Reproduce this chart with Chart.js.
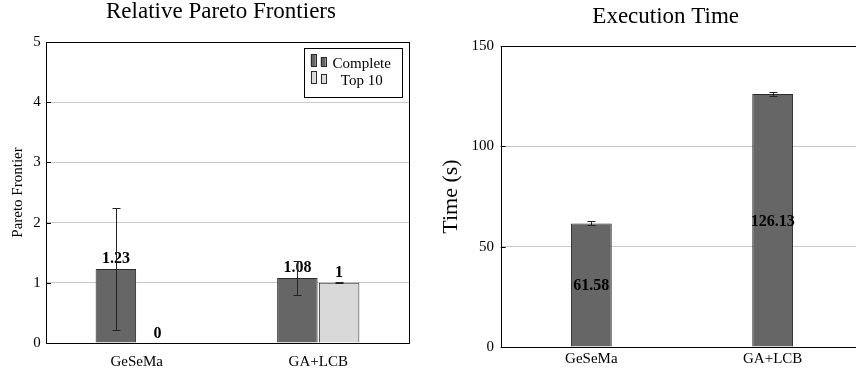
<!DOCTYPE html>
<html>
<head>
<meta charset="utf-8">
<script src="https://cdn.jsdelivr.net/npm/chart.js@4/dist/chart.umd.min.js"></script>
<style>
  html, body { margin: 0; padding: 0; background: #fff; overflow: hidden; }
  body { width: 856px; height: 373px; position: relative; }
  #paretoChart { position: absolute; left: 0; top: 0; }
  #timeChart { position: absolute; left: 420px; top: 0; }
</style>
</head>
<body>
<canvas id="paretoChart" width="420" height="373"></canvas>
<canvas id="timeChart" width="450" height="373"></canvas>
<script>
// Data
const categories = ['GeSeMa', 'GA+LCB'];
const completeValues = [1.23, 1.08];
const completeErrors = [1.01, 0.28];
const top10Values = [0, 1];
const top10Errors = [0, 0.005];
const paretoTicks = [0, 1, 2, 3, 4, 5];

const timeValues = [61.58, 126.13];
const timeErrors = [1.0, 1.1];
const timeTicks = [0, 50, 100, 150];

const SERIF = "'Liberation Serif', 'Times New Roman', serif";
Chart.defaults.font.family = SERIF;
Chart.defaults.color = '#000';

// Title text drawn at a fixed spot above each plot
const heading = {
    id: 'heading',
    afterDraw(chart, args, opts) {
        const ctx = chart.ctx;
        ctx.save();
        ctx.font = opts.size + 'px ' + SERIF;
        ctx.fillStyle = '#000';
        ctx.textAlign = 'center';
        ctx.textBaseline = 'alphabetic';
        ctx.fillText(opts.text, opts.x, opts.y);
        ctx.restore();
    }
};

// Black box round the plot area plus small inside tick marks
const frame = {
    id: 'frame',
    afterDatasetsDraw(chart) {
        const { ctx, chartArea: a } = chart;
        const y = chart.scales.y;
        ctx.save();
        ctx.strokeStyle = '#000';
        ctx.lineWidth = 1;
        ctx.beginPath();
        y.ticks.forEach(t => {
            const py = Math.round(y.getPixelForValue(t.value)) + 0.5;
            ctx.moveTo(a.left, py);
            ctx.lineTo(a.left + 5, py);
        });
        ctx.stroke();
        ctx.strokeRect(Math.round(a.left) + 0.5, Math.round(a.top) + 0.5,
            Math.round(a.right - a.left), Math.round(a.bottom - a.top));
        ctx.restore();
    }
};

// Bold value labels, above the bar or in its middle
const valueLabels = {
    id: 'valueLabels',
    afterDatasetsDraw(chart, args, opts) {
        const ctx = chart.ctx;
        ctx.save();
        ctx.font = 'bold 16px ' + SERIF;
        ctx.fillStyle = '#000';
        ctx.textAlign = 'center';
        ctx.textBaseline = 'alphabetic';
        chart.data.datasets.forEach((ds, i) => {
            chart.getDatasetMeta(i).data.forEach((bar, j) => {
                const yPos = opts.inside ? (bar.y + bar.base) / 2 + 5.5 : bar.y - 5.5;
                ctx.fillText(String(ds.data[j]), bar.x, yPos);
            });
        });
        ctx.restore();
    }
};

// Error bars from each dataset's errors array
const errorBars = {
    id: 'errorBars',
    afterDatasetsDraw(chart, args, opts) {
        const ctx = chart.ctx;
        const y = chart.scales.y;
        ctx.save();
        ctx.strokeStyle = '#222';
        ctx.lineWidth = 1;
        chart.data.datasets.forEach((ds, i) => {
            if (!ds.errors) return;
            chart.getDatasetMeta(i).data.forEach((bar, j) => {
                const err = ds.errors[j];
                if (!err) return;
                const x = Math.round(bar.x) + 0.5;
                const top = Math.round(y.getPixelForValue(ds.data[j] + err)) + 0.5;
                const bot = Math.round(y.getPixelForValue(ds.data[j] - err)) + 0.5;
                ctx.beginPath();
                ctx.moveTo(x, top); ctx.lineTo(x, bot);
                ctx.moveTo(x - opts.cap, top); ctx.lineTo(x + opts.cap, top);
                ctx.moveTo(x - opts.cap, bot); ctx.lineTo(x + opts.cap, bot);
                ctx.stroke();
            });
        });
        ctx.restore();
    }
};

// pgfplots-like legend box with two little bars per entry
const barLegend = {
    id: 'barLegend',
    afterDraw(chart) {
        const { ctx, chartArea: a } = chart;
        const w = 97.6, h = 49;
        const left = a.right - 7.7 - w, top = a.top + 6.3;
        ctx.save();
        ctx.fillStyle = '#fff';
        ctx.fillRect(left, top, w, h);
        ctx.strokeStyle = '#000';
        ctx.lineWidth = 1;
        ctx.strokeRect(Math.round(left) + 0.5, Math.round(top) + 0.5, Math.round(w), Math.round(h));
        ctx.font = '15px ' + SERIF;
        ctx.textAlign = 'center';
        ctx.textBaseline = 'alphabetic';
        chart.data.datasets.forEach((ds, i) => {
            const base = Math.round(top + 17.4 + i * 17.6);
            ctx.fillStyle = ds.backgroundColor;
            ctx.strokeStyle = ds.borderColor;
            ctx.fillRect(left + 7, base - 12, 5, 12);
            ctx.strokeRect(Math.round(left + 7) + 0.5, base - 12 + 0.5, 5, 12);
            ctx.fillRect(left + 17, base - 9, 5, 9);
            ctx.strokeRect(Math.round(left + 17) + 0.5, base - 9 + 0.5, 5, 9);
            ctx.fillStyle = '#000';
            ctx.fillText(ds.label, left + 58, base + 2);
        });
        ctx.restore();
    }
};

function yScale(ticks, title, titleSize, titlePad, width, pad) {
    return {
        min: ticks[0],
        max: ticks[ticks.length - 1],
        afterBuildTicks: s => { s.ticks = ticks.map(v => ({ value: v })); },
        grid: { color: '#c8c8c8', drawTicks: false },
        border: { display: false },
        ticks: { padding: pad, font: { size: 15 }, color: '#000' },
        title: { display: true, text: title, font: { size: titleSize }, padding: { top: titlePad, bottom: 0 } },
        afterFit: s => { s.width = width; }
    };
}

function xScale(height, pad) {
    return {
        grid: { display: false, drawTicks: false },
        border: { display: false },
        ticks: { padding: pad, font: { size: 15 }, color: '#000' },
        afterFit: s => { s.height = height; }
    };
}

new Chart(document.getElementById('paretoChart'), {
    type: 'bar',
    data: {
        labels: categories,
        datasets: [{
            label: 'Complete',
            data: completeValues,
            errors: completeErrors,
            backgroundColor: '#666666',
            borderColor: '#2a2a2a',
            borderWidth: 1
        }, {
            label: 'Top 10',
            data: top10Values,
            errors: top10Errors,
            backgroundColor: '#d9d9d9',
            borderColor: '#2a2a2a',
            borderWidth: 1
        }]
    },
    options: {
        responsive: false,
        animation: false,
        categoryPercentage: 0.46,
        barPercentage: 0.97,
        layout: { padding: { left: 0, top: 42, right: 11, bottom: 0 } },
        plugins: {
            legend: { display: false },
            tooltip: { enabled: false },
            heading: { text: 'Relative Pareto Frontiers', size: 23, x: 221, y: 17.5 },
            errorBars: { cap: 4 },
            valueLabels: { inside: false }
        },
        scales: {
            x: xScale(30, 10),
            y: yScale(paretoTicks, 'Pareto Frontier', 15, 9, 46, 5.3)
        }
    },
    plugins: [frame, valueLabels, errorBars, barLegend, heading]
});

new Chart(document.getElementById('timeChart'), {
    type: 'bar',
    data: {
        labels: categories,
        datasets: [{
            label: 'Time',
            data: timeValues,
            errors: timeErrors,
            backgroundColor: '#666666',
            borderColor: '#2a2a2a',
            borderWidth: 1
        }]
    },
    options: {
        responsive: false,
        animation: false,
        categoryPercentage: 1,
        barPercentage: 0.225,
        layout: { padding: { left: 0, top: 46, right: 6.7, bottom: 0 } },
        plugins: {
            legend: { display: false },
            tooltip: { enabled: false },
            heading: { text: 'Execution Time', size: 23, x: 245.7, y: 22.7 },
            errorBars: { cap: 4 },
            valueLabels: { inside: true }
        },
        scales: {
            x: xScale(26, 3.5),
            y: yScale(timeTicks, 'Time (s)', 22, 18, 80.7, 6.7)
        }
    },
    plugins: [frame, valueLabels, errorBars, heading]
});
</script>
</body>
</html>
